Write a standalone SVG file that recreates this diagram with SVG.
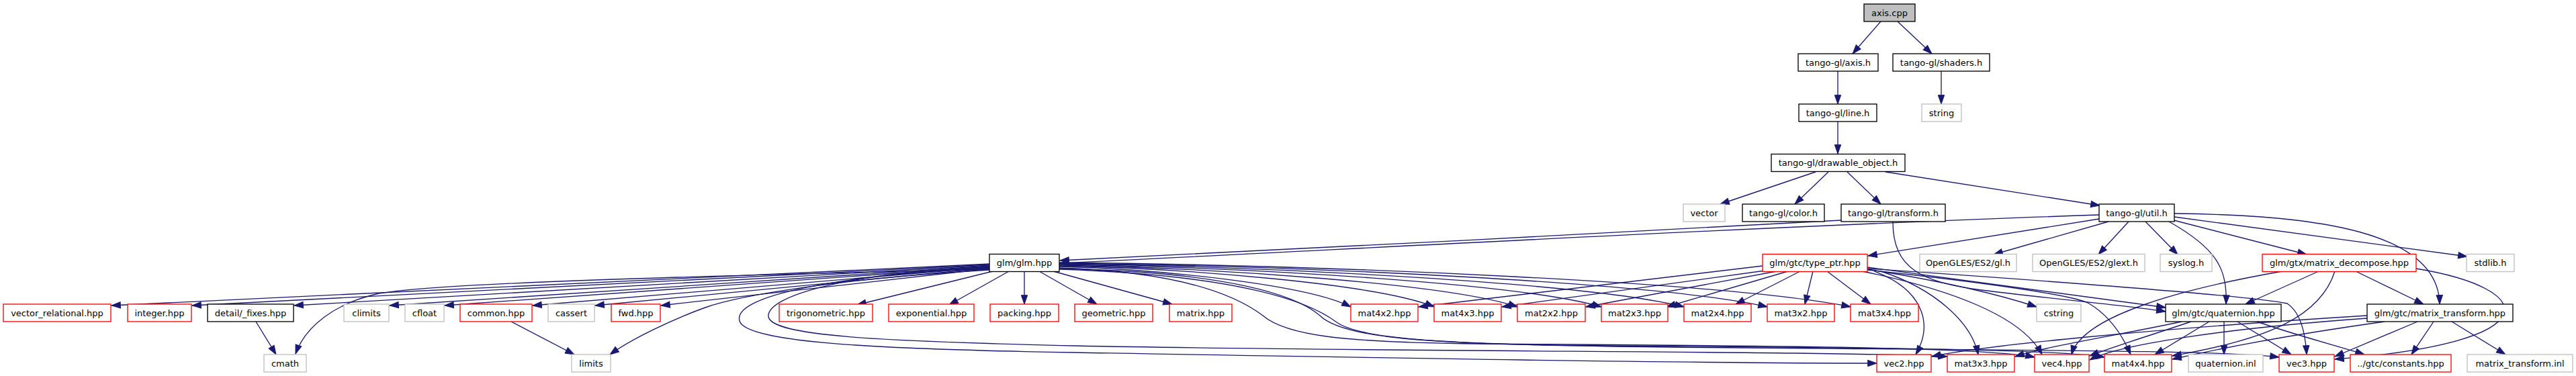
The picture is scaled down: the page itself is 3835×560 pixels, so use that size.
<svg xmlns="http://www.w3.org/2000/svg" width="3835" height="560" viewBox="0 0 3835 560">
<style>
.n rect{fill:#fff;stroke:#000;stroke-width:1.33}
.n.red rect{stroke:#ff0000}
.n.ext rect{stroke:#bfbfbf}
.n.root rect{fill:#bfbfbf}
.n text{font-family:"DejaVu Sans",Verdana,sans-serif;font-size:13px;text-anchor:middle;fill:#000}
#edges path{fill:none;stroke:#191970;stroke-width:1.33;marker-end:url(#ah)}
</style>
<defs>
<marker id="ah" markerUnits="userSpaceOnUse" markerWidth="14" markerHeight="10" refX="13.3" refY="4.67" orient="auto" overflow="visible">
<path d="M0,0 L13.3,4.67 L0,9.33 z" fill="#191970" stroke="#191970" stroke-width="1"/>
</marker>
</defs>
<rect width="3835" height="560" fill="#fff"/>
<g id="edges">
<path d="M2800,32 L2758,80"/>
<path d="M2825,32 L2876,80"/>
<path d="M2890,106 L2890,155"/>
<path d="M2736,106 L2736,155"/>
<path d="M2736,181 L2736,229"/>
<path d="M2703,256 L2561,304"/>
<path d="M2722,256 L2672,304"/>
<path d="M2750,256 L2800,304"/>
<path d="M2807,256 L3126,306"/>
<path d="M2741,328 C2400,345 1900,375 1578,388"/>
<path d="M3125,320 C2600,338 2000,372 1578,392"/>
<path d="M3125,326 L2781,381"/>
<path d="M3139,330 L2968,379"/>
<path d="M3169,330 L3124,379"/>
<path d="M3194,330 L3242,379"/>
<path d="M3229,330 C3300,370 3316,400 3314,453"/>
<path d="M3236,328 L3434,379"/>
<path d="M3237,318 C3450,320 3630,345 3632,453"/>
<path d="M3237,323 L3673,382"/>
<path d="M2818,330 C2818,400 2860,420 2950,432 C3080,448 3170,455 3224,464"/>
<path d="M1473,393 L166,455"/>
<path d="M1473,394 L286,455"/>
<path d="M1473,395 L438,455"/>
<path d="M1473,396 L580,455"/>
<path d="M1473,397 L662,455"/>
<path d="M1473,398 L793,455"/>
<path d="M1473,399 L886,455"/>
<path d="M1473,400 L984,455"/>
<path d="M1473,401 C1100,410 650,420 560,438 C500,452 455,485 440,527"/>
<path d="M1473,402 C1250,415 1100,440 1050,458 C1000,476 940,505 908,528"/>
<path d="M381,479 L411,528"/>
<path d="M761,479 L855,528"/>
<path d="M1478,404 L1276,454"/>
<path d="M1502,404 L1413,454"/>
<path d="M1525,404 L1525,453"/>
<path d="M1547,404 L1633,453"/>
<path d="M1568,404 L1745,453"/>
<path d="M1577,397 C1729,401 1946,424 2011,457"/>
<path d="M1577,396 C1772,400 2051,423 2135,457"/>
<path d="M1577,395 C1816,399 2157,423 2259,457"/>
<path d="M1577,394 C1859,398 2263,422 2384,457"/>
<path d="M1577,393 C1903,397 2367,422 2507,457"/>
<path d="M1577,392 C1946,396 2473,421 2631,457"/>
<path d="M1577,391 C1989,395 2578,421 2755,457"/>
<path d="M1473,399 C1250,410 1090,440 1101,478 C1110,510 1300,520 1600,525 C2000,532 2500,541 2794,541"/>
<path d="M1473,398 C1270,405 1140,440 1144,472 C1150,500 1300,508 1600,515 C2100,525 2700,522 2899,531"/>
<path d="M1577,399 C1760,405 1840,440 1880,470 C1915,500 2000,510 2200,512 C2600,515 2950,516 3029,532"/>
<path d="M1577,400 C1830,405 1930,440 1965,470 C1995,500 2100,510 2300,514 C2700,518 3050,518 3133,532"/>
<path d="M1577,401 C1850,410 1950,450 1990,480 C2025,505 2150,512 2400,516 C2900,522 3300,520 3393,532"/>
<path d="M2624,396 L2112,457"/>
<path d="M2628,403 L2236,457"/>
<path d="M2645,404 L2361,457"/>
<path d="M2662,404 L2481,457"/>
<path d="M2680,404 L2584,453"/>
<path d="M2699,404 L2687,453"/>
<path d="M2720,404 L2785,453"/>
<path d="M2780,398 C2950,420 3100,440 3224,458"/>
<path d="M2780,401 C2900,420 2980,440 3032,457"/>
<path d="M2790,404 C2860,430 2880,480 2852,528"/>
<path d="M2800,404 C2880,430 2935,480 2945,528"/>
<path d="M2772,404 C2900,430 3010,470 3040,528"/>
<path d="M2780,402 C2950,420 3090,440 3110,452 C3140,470 3160,500 3172,528"/>
<path d="M2780,400 C3000,415 3350,440 3405,452 C3425,465 3432,495 3434,528"/>
<path d="M3248,479 C3150,500 3050,515 3000,531"/>
<path d="M3262,479 C3200,500 3150,515 3111,530"/>
<path d="M3289,479 L3208,528"/>
<path d="M3311,479 L3311,528"/>
<path d="M3331,479 L3411,528"/>
<path d="M3360,479 C3420,500 3480,515 3520,528"/>
<path d="M3650,479 L3730,528"/>
<path d="M3623,479 L3590,528"/>
<path d="M3599,479 L3476,531"/>
<path d="M3550,479 C3400,500 3300,520 3234,535"/>
<path d="M3524,474 C3300,490 3150,515 3111,536"/>
<path d="M3524,470 C3200,490 2950,515 2876,531"/>
<path d="M3398,404 C3250,430 3100,470 3084,528"/>
<path d="M3452,404 L3343,453"/>
<path d="M3476,404 C3455,470 3380,505 3234,530"/>
<path d="M3507,404 L3608,453"/>
<path d="M3597,400 C3780,430 3800,510 3476,535"/>
</g>
<g id="n_axis_cpp" class="n root"><rect x="2775" y="6" width="76" height="26"/><text x="2813" y="23.5">axis.cpp</text></g>
<g id="n_axis_h" class="n"><rect x="2677" y="80" width="119" height="26"/><text x="2736.5" y="97.5">tango-gl/axis.h</text></g>
<g id="n_shaders_h" class="n"><rect x="2818" y="80" width="144" height="26"/><text x="2890" y="97.5">tango-gl/shaders.h</text></g>
<g id="n_line_h" class="n"><rect x="2678" y="155" width="116" height="26"/><text x="2736" y="172.5">tango-gl/line.h</text></g>
<g id="n_string" class="n ext"><rect x="2861" y="155" width="59" height="26"/><text x="2890.5" y="172.5">string</text></g>
<g id="n_drawable" class="n"><rect x="2637" y="229.5" width="199" height="26"/><text x="2736.5" y="247">tango-gl/drawable_object.h</text></g>
<g id="n_vector" class="n ext"><rect x="2506" y="304" width="62" height="26"/><text x="2537" y="321.5">vector</text></g>
<g id="n_color" class="n"><rect x="2594" y="304" width="122" height="26"/><text x="2655" y="321.5">tango-gl/color.h</text></g>
<g id="n_transform" class="n"><rect x="2741" y="304" width="155" height="26"/><text x="2818.5" y="321.5">tango-gl/transform.h</text></g>
<g id="n_util" class="n"><rect x="3125" y="304" width="112" height="26"/><text x="3181" y="321.5">tango-gl/util.h</text></g>
<g id="n_glm" class="n"><rect x="1473" y="378.5" width="104" height="26"/><text x="1525" y="396">glm/glm.hpp</text></g>
<g id="n_type_ptr" class="n red"><rect x="2624" y="378.5" width="156" height="26"/><text x="2702" y="396">glm/gtc/type_ptr.hpp</text></g>
<g id="n_gl_h" class="n ext"><rect x="2858" y="378.5" width="144" height="26"/><text x="2930" y="396">OpenGLES/ES2/gl.h</text></g>
<g id="n_glext_h" class="n ext"><rect x="3026" y="378.5" width="167" height="26"/><text x="3109.5" y="396">OpenGLES/ES2/glext.h</text></g>
<g id="n_syslog_h" class="n ext"><rect x="3216" y="378.5" width="77" height="26"/><text x="3254.5" y="396">syslog.h</text></g>
<g id="n_matrix_decompose" class="n red"><rect x="3368" y="378.5" width="229" height="26"/><text x="3482.5" y="396">glm/gtx/matrix_decompose.hpp</text></g>
<g id="n_stdlib_h" class="n ext"><rect x="3672" y="378.5" width="71" height="26"/><text x="3707.5" y="396">stdlib.h</text></g>
<g id="n_vector_relational" class="n red"><rect x="5" y="453" width="160" height="26"/><text x="85" y="470.5">vector_relational.hpp</text></g>
<g id="n_integer" class="n red"><rect x="190" y="453" width="95" height="26"/><text x="237.5" y="470.5">integer.hpp</text></g>
<g id="n_fixes" class="n"><rect x="309" y="453" width="128" height="26"/><text x="373" y="470.5">detail/_fixes.hpp</text></g>
<g id="n_climits" class="n ext"><rect x="512" y="453" width="67" height="26"/><text x="545.5" y="470.5">climits</text></g>
<g id="n_cfloat" class="n ext"><rect x="603" y="453" width="58" height="26"/><text x="632" y="470.5">cfloat</text></g>
<g id="n_common" class="n red"><rect x="685" y="453" width="107" height="26"/><text x="738.5" y="470.5">common.hpp</text></g>
<g id="n_cassert" class="n ext"><rect x="816" y="453" width="69" height="26"/><text x="850.5" y="470.5">cassert</text></g>
<g id="n_fwd" class="n red"><rect x="910" y="453" width="73" height="26"/><text x="946.5" y="470.5">fwd.hpp</text></g>
<g id="n_trigonometric" class="n red"><rect x="1160" y="453" width="139" height="26"/><text x="1229.5" y="470.5">trigonometric.hpp</text></g>
<g id="n_exponential" class="n red"><rect x="1323" y="453" width="127" height="26"/><text x="1386.5" y="470.5">exponential.hpp</text></g>
<g id="n_packing" class="n red"><rect x="1474" y="453" width="102" height="26"/><text x="1525" y="470.5">packing.hpp</text></g>
<g id="n_geometric" class="n red"><rect x="1600" y="453" width="116" height="26"/><text x="1658" y="470.5">geometric.hpp</text></g>
<g id="n_matrix" class="n red"><rect x="1741" y="453" width="93" height="26"/><text x="1787.5" y="470.5">matrix.hpp</text></g>
<g id="n_mat4x2" class="n red"><rect x="2011" y="453" width="100" height="26"/><text x="2061" y="470.5">mat4x2.hpp</text></g>
<g id="n_mat4x3" class="n red"><rect x="2135" y="453" width="100" height="26"/><text x="2185" y="470.5">mat4x3.hpp</text></g>
<g id="n_mat2x2" class="n red"><rect x="2259" y="453" width="101" height="26"/><text x="2309.5" y="470.5">mat2x2.hpp</text></g>
<g id="n_mat2x3" class="n red"><rect x="2384" y="453" width="99" height="26"/><text x="2433.5" y="470.5">mat2x3.hpp</text></g>
<g id="n_mat2x4" class="n red"><rect x="2507" y="453" width="100" height="26"/><text x="2557" y="470.5">mat2x4.hpp</text></g>
<g id="n_mat3x2" class="n red"><rect x="2631" y="453" width="100" height="26"/><text x="2681" y="470.5">mat3x2.hpp</text></g>
<g id="n_mat3x4" class="n red"><rect x="2755" y="453" width="101" height="26"/><text x="2805.5" y="470.5">mat3x4.hpp</text></g>
<g id="n_cstring" class="n ext"><rect x="3032" y="453" width="66" height="26"/><text x="3065" y="470.5">cstring</text></g>
<g id="n_quaternion" class="n"><rect x="3224" y="453" width="172" height="26"/><text x="3310" y="470.5">glm/gtc/quaternion.hpp</text></g>
<g id="n_matrix_transform" class="n"><rect x="3524" y="453" width="217" height="26"/><text x="3632.5" y="470.5">glm/gtc/matrix_transform.hpp</text></g>
<g id="n_cmath" class="n ext"><rect x="393" y="528" width="63" height="26"/><text x="424.5" y="545.5">cmath</text></g>
<g id="n_limits" class="n ext"><rect x="851" y="528" width="58" height="26"/><text x="880" y="545.5">limits</text></g>
<g id="n_vec2" class="n red"><rect x="2794" y="528" width="81" height="26"/><text x="2834.5" y="545.5">vec2.hpp</text></g>
<g id="n_mat3x3" class="n red"><rect x="2899" y="528" width="100" height="26"/><text x="2949" y="545.5">mat3x3.hpp</text></g>
<g id="n_vec4" class="n red"><rect x="3029" y="528" width="81" height="26"/><text x="3069.5" y="545.5">vec4.hpp</text></g>
<g id="n_mat4x4" class="n red"><rect x="3133" y="528" width="100" height="26"/><text x="3183" y="545.5">mat4x4.hpp</text></g>
<g id="n_quaternion_inl" class="n ext"><rect x="3258" y="528" width="111" height="26"/><text x="3313.5" y="545.5">quaternion.inl</text></g>
<g id="n_vec3" class="n red"><rect x="3393" y="528" width="82" height="26"/><text x="3434" y="545.5">vec3.hpp</text></g>
<g id="n_constants" class="n red"><rect x="3499" y="528" width="150" height="26"/><text x="3574" y="545.5">../gtc/constants.hpp</text></g>
<g id="n_matrix_transform_inl" class="n ext"><rect x="3673" y="528" width="157" height="26"/><text x="3751.5" y="545.5">matrix_transform.inl</text></g>
</svg>
